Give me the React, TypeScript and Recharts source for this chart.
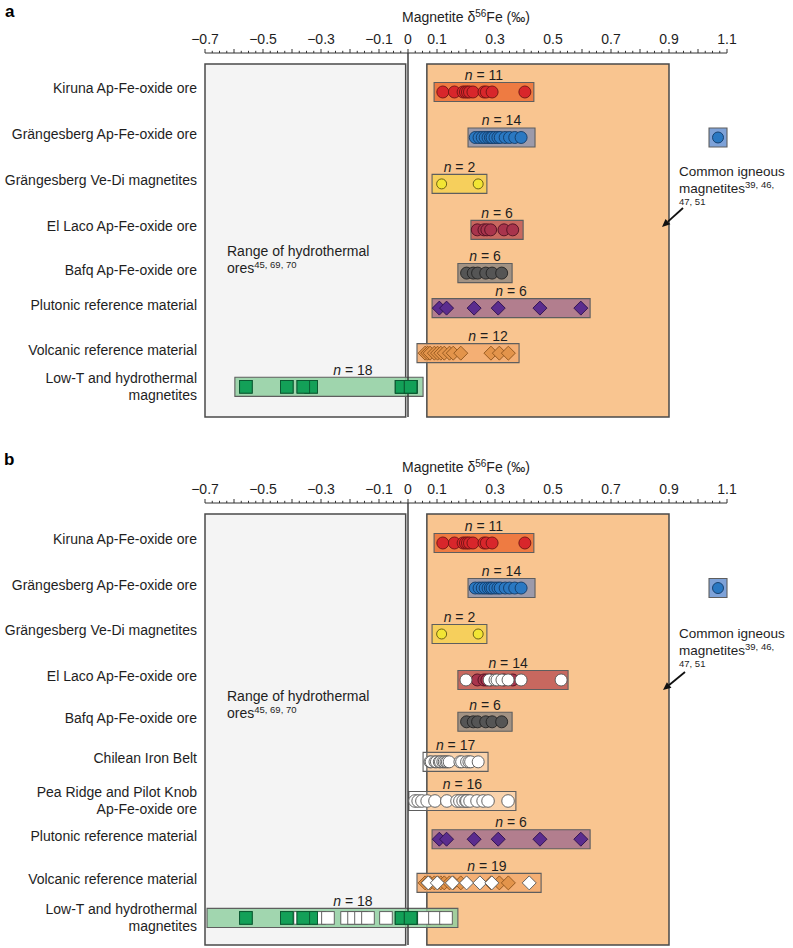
import React from 'react';
import { ScatterChart, Scatter, XAxis, YAxis, ReferenceArea, ReferenceLine } from 'recharts';

const FONT = '"Liberation Sans", Arial, Helvetica, sans-serif';
const TXT = '#1e1e1e';

// ---------- axis ----------
const xDomain: [number, number] = [-0.7, 1.1];
const xTickLabels = [-0.7, -0.5, -0.3, -0.1, 0, 0.1, 0.3, 0.5, 0.7, 0.9, 1.1];
const xMinorStep = 0.025;
const xAllTicks: number[] = [];
for (let i = 0; i <= Math.round((xDomain[1] - xDomain[0]) / xMinorStep); i++) {
  xAllTicks.push(Math.round((xDomain[0] + i * xMinorStep) * 1000) / 1000);
}

// ---------- panel a rows ----------
const rowLabelsA = [
  'Kiruna Ap-Fe-oxide ore',
  'Grängesberg Ap-Fe-oxide ore',
  'Grängesberg Ve-Di magnetites',
  'El Laco Ap-Fe-oxide ore',
  'Bafq Ap-Fe-oxide ore',
  'Plutonic reference material',
  'Volcanic reference material',
  'Low-T and hydrothermal\nmagnetites',
];
const rowPosA = [0, 1, 2.02, 3.03, 3.98, 4.75, 5.74, 6.48];

// ---------- panel b rows ----------
const rowLabelsB = [
  'Kiruna Ap-Fe-oxide ore',
  'Grängesberg Ap-Fe-oxide ore',
  'Grängesberg Ve-Di magnetites',
  'El Laco Ap-Fe-oxide ore',
  'Bafq Ap-Fe-oxide ore',
  'Chilean Iron Belt',
  'Pea Ridge and Pilot Knob\nAp-Fe-oxide ore',
  'Plutonic reference material',
  'Volcanic reference material',
  'Low-T and hydrothermal\nmagnetites',
];
const rowPosB = [0, 0.99, 2.0, 3.01, 3.93, 4.81, 5.67, 6.51, 7.47, 8.24];

// ---------- values (δ56Fe, ‰) ----------
const kiruna = [0.12, 0.16, 0.19, 0.198, 0.205, 0.212, 0.224, 0.262, 0.27, 0.29, 0.403];
const grangesberg = [0.232, 0.245, 0.256, 0.266, 0.276, 0.284, 0.29, 0.3, 0.31, 0.318, 0.335, 0.35, 0.368, 0.39];
const veDi = [0.116, 0.242];
const elLaco = [0.239, 0.262, 0.272, 0.285, 0.331, 0.361];
const elLacoNew = [0.2, 0.28, 0.3, 0.307, 0.324, 0.345, 0.39, 0.528];
const bafq = [0.202, 0.225, 0.24, 0.268, 0.29, 0.323];
const chilean = [0.076, 0.08, 0.093, 0.098, 0.108, 0.112, 0.12, 0.125, 0.131, 0.136, 0.142, 0.179, 0.185, 0.202, 0.21, 0.216, 0.242];
const peaRidge = [0.024, 0.035, 0.048, 0.066, 0.093, 0.134, 0.169, 0.179, 0.19, 0.2, 0.203, 0.214, 0.238, 0.259, 0.276, 0.345];
const plutonic = [0.108, 0.133, 0.228, 0.311, 0.455, 0.596];
const volcanic = [0.059, 0.068, 0.076, 0.091, 0.102, 0.113, 0.125, 0.143, 0.156, 0.182, 0.286, 0.315, 0.346];
const volcanicNew = [0.07, 0.101, 0.153, 0.202, 0.248, 0.289, 0.418];
const lowT = [-0.559, -0.418, -0.361, -0.334, -0.334, -0.022, -0.022, -0.022, 0.009, 0.009, 0.009, 0.009, -0.559, -0.418, -0.361, -0.022, 0.009, 0.009];
const lowTNew = [-0.372, -0.307, -0.276, -0.21, -0.186, -0.162, -0.138, -0.076, 0.055, 0.093, 0.131];
const igneous = [1.069];

// ---------- ranges ----------
const hydrothermalRange = [-0.7, -0.008];
const igneousRange = [0.065, 0.9];

// ---------- styles ----------
const C = {
  kiruna: { box: '#EE7B42', fill: '#D8262B', stroke: '#6e1414' },
  grang: { box: '#9C9AAA', fill: '#2A78C2', stroke: '#123a66' },
  vedi: { box: '#F6CF5C', fill: '#F2E534', stroke: '#5e5510' },
  laco: { box: '#C8685F', fill: '#A8344C', stroke: '#4e1020' },
  bafq: { box: '#A29283', fill: '#555555', stroke: '#222222' },
  plut: { box: '#B27E8E', fill: '#5B2C8E', stroke: '#2a0f4c' },
  volc: { box: '#F2AC70', fill: '#E3944B', stroke: '#8e531c' },
  lowt: { box: '#8FCFA0', fill: '#13A058', stroke: '#0b5630' },
  ign: { box: '#7EA2D8', fill: '#2A78C2', stroke: '#123a66' },
  white: { box: '#FFFFFF', fill: '#FFFFFF', stroke: '#555555' },
};

type Box = { row: number; lo: number; hi: number; fill: string; op?: number; n?: number; nAt?: number };
type Series = { row: number; values: number[]; kind: 'circle' | 'diamond' | 'square'; size: number; fill: string; stroke: string };

const boxesA: Box[] = [
  { row: 0, lo: 0.09, hi: 0.434, fill: C.kiruna.box, n: 11 },
  { row: 1, lo: 0.207, hi: 0.438, fill: C.grang.box, n: 14 },
  { row: 1, lo: 1.038, hi: 1.1, fill: C.ign.box },
  { row: 2, lo: 0.083, hi: 0.272, fill: C.vedi.box, n: 2 },
  { row: 3, lo: 0.217, hi: 0.397, fill: C.laco.box, n: 6 },
  { row: 4, lo: 0.172, hi: 0.359, fill: C.bafq.box, n: 6 },
  { row: 5, lo: 0.083, hi: 0.628, fill: C.plut.box, n: 6 },
  { row: 6, lo: 0.031, hi: 0.383, fill: C.volc.box, op: 0.88, n: 12, nAt: 0.276 },
  { row: 7, lo: -0.597, hi: 0.052, fill: C.lowt.box, op: 0.85, n: 18, nAt: -0.19 },
];

const seriesA: Series[] = [
  { row: 0, values: kiruna, kind: 'circle', size: 6, ...C.kiruna },
  { row: 1, values: grangesberg, kind: 'circle', size: 6, ...C.grang },
  { row: 1, values: igneous, kind: 'circle', size: 5.5, ...C.ign },
  { row: 2, values: veDi, kind: 'circle', size: 5, ...C.vedi },
  { row: 3, values: elLaco, kind: 'circle', size: 6, ...C.laco },
  { row: 4, values: bafq, kind: 'circle', size: 6, ...C.bafq },
  { row: 5, values: plutonic, kind: 'diamond', size: 7, ...C.plut },
  { row: 6, values: volcanic, kind: 'diamond', size: 7, ...C.volc },
  { row: 7, values: lowT, kind: 'square', size: 6.3, ...C.lowt },
];

const boxesB: Box[] = [
  { row: 0, lo: 0.09, hi: 0.434, fill: C.kiruna.box, n: 11 },
  { row: 1, lo: 0.207, hi: 0.438, fill: C.grang.box, n: 14 },
  { row: 1, lo: 1.038, hi: 1.1, fill: C.ign.box },
  { row: 2, lo: 0.083, hi: 0.272, fill: C.vedi.box, n: 2 },
  { row: 3, lo: 0.172, hi: 0.552, fill: C.laco.box, n: 14, nAt: 0.345 },
  { row: 4, lo: 0.172, hi: 0.359, fill: C.bafq.box, n: 6 },
  { row: 5, lo: 0.052, hi: 0.276, fill: '#FFFFFF', op: 0.25, n: 17 },
  { row: 6, lo: 0.003, hi: 0.372, fill: '#FFFFFF', op: 0.25, n: 16 },
  { row: 7, lo: 0.083, hi: 0.628, fill: C.plut.box, n: 6 },
  { row: 8, lo: 0.031, hi: 0.459, fill: C.volc.box, op: 0.88, n: 19, nAt: 0.272 },
  { row: 9, lo: -0.693, hi: 0.172, fill: C.lowt.box, op: 0.82, n: 18, nAt: -0.19 },
];

const seriesB: Series[] = [
  { row: 0, values: kiruna, kind: 'circle', size: 6, ...C.kiruna },
  { row: 1, values: grangesberg, kind: 'circle', size: 6, ...C.grang },
  { row: 1, values: igneous, kind: 'circle', size: 5.5, ...C.ign },
  { row: 2, values: veDi, kind: 'circle', size: 5, ...C.vedi },
  { row: 3, values: elLaco, kind: 'circle', size: 6, ...C.laco },
  { row: 3, values: elLacoNew, kind: 'circle', size: 6, ...C.white },
  { row: 4, values: bafq, kind: 'circle', size: 6, ...C.bafq },
  { row: 5, values: chilean, kind: 'circle', size: 6, ...C.white },
  { row: 6, values: peaRidge, kind: 'circle', size: 6.3, ...C.white },
  { row: 7, values: plutonic, kind: 'diamond', size: 7, ...C.plut },
  { row: 8, values: volcanic, kind: 'diamond', size: 7, ...C.volc },
  { row: 8, values: volcanicNew, kind: 'diamond', size: 7, ...C.white },
  { row: 9, values: lowTNew, kind: 'square', size: 6.3, ...C.white },
  { row: 9, values: lowT, kind: 'square', size: 6.3, ...C.lowt },
];

// ---------- helpers ----------
const fmtTick = (v: number) => (Math.abs(v) < 1e-9 ? '0' : v < 0 ? '\u2212' + Math.abs(v).toFixed(1) : v.toFixed(1));

const XTick = (props: any) => {
  const { x, y, payload } = props;
  const v = payload.value as number;
  const major = Math.abs(v * 10 - Math.round(v * 10)) < 1e-6;
  const lab = xTickLabels.find((t) => Math.abs(t - v) < 1e-6);
  return (
    <g>
      <line x1={x} x2={x} y1={y} y2={y - (major ? 4 : 2.2)} stroke="#333" strokeWidth={1} />
      {lab !== undefined && (
        <text x={x} y={y - 9.5} textAnchor="middle" fontSize={14} fill={TXT} fontFamily={FONT}>
          {fmtTick(lab)}
        </text>
      )}
    </g>
  );
};

const makeRowTick = (labels: string[], pos: number[]) => (props: any) => {
  const { x, y, payload } = props;
  const i = pos.findIndex((p) => Math.abs(p - payload.value) < 1e-9);
  const lines = (labels[i] ?? '').split('\n');
  const offs = lines.length === 1 ? [1.5] : [-4, 13];
  return (
    <text textAnchor="end" fontSize={14} fill={TXT} fontFamily={FONT}>
      {lines.map((l, k) => (
        <tspan key={k} x={x} y={y + offs[k]}>
          {l}
        </tspan>
      ))}
    </text>
  );
};

const Marker = (p: any, s: Series) => {
  const { cx, cy } = p;
  if (cx == null || cy == null) return <g />;
  const r = s.size;
  if (s.kind === 'circle') return <circle cx={cx} cy={cy} r={r} fill={s.fill} stroke={s.stroke} strokeWidth={0.9} />;
  if (s.kind === 'diamond')
    return (
      <polygon
        points={`${cx},${cy - r} ${cx + r},${cy} ${cx},${cy + r} ${cx - r},${cy}`}
        fill={s.fill}
        stroke={s.stroke}
        strokeWidth={0.9}
      />
    );
  return <rect x={cx - r} y={cy - r} width={2 * r} height={2 * r} fill={s.fill} stroke={s.stroke} strokeWidth={0.9} />;
};

const NLabel = (p: any) => {
  const { cx, cy } = p;
  const n = p.payload?.n ?? p.n;
  return (
    <text x={cx} y={cy - 12} textAnchor="middle" fontSize={14} fill={TXT} fontFamily={FONT}>
      <tspan fontStyle="italic">n</tspan> = {n}
    </text>
  );
};

type PanelProps = {
  labels: string[];
  pos: number[];
  boxes: Box[];
  series: Series[];
  height: number;
  marginBottom: number;
  yDomain: [number, number];
  bgTop: number;
  bgBottom: number;
};

const HALF = 0.209;

const Panel = ({ labels, pos, boxes, series, height, marginBottom, yDomain, bgTop, bgBottom }: PanelProps) => {
  const nData = boxes
    .filter((b) => b.n !== undefined)
    .map((b) => ({ x: b.nAt ?? (b.lo + b.hi) / 2, y: pos[b.row], n: b.n }));
  return (
    <ScatterChart width={793} height={height} margin={{ top: 23, right: 66, bottom: marginBottom, left: 0 }}>
      <XAxis
        dataKey="x"
        type="number"
        orientation="top"
        domain={xDomain}
        allowDataOverflow
        ticks={xAllTicks}
        interval={0}
        tick={<XTick />}
        tickLine={false}
        tickSize={0}
        tickMargin={0}
        height={30}
        axisLine={{ stroke: '#333', strokeWidth: 1 }}
      />
      <YAxis
        dataKey="y"
        type="number"
        domain={yDomain}
        allowDataOverflow
        reversed
        ticks={pos}
        interval={0}
        width={205}
        axisLine={false}
        tickLine={false}
        tickSize={0}
        tickMargin={8}
        tick={makeRowTick(labels, pos)}
      />
      <ReferenceArea
        x1={hydrothermalRange[0]}
        x2={hydrothermalRange[1]}
        y1={bgTop}
        y2={bgBottom}
        fill="#F4F4F4"
        fillOpacity={1}
        stroke="#4a4a4a"
        strokeWidth={1.5}
        ifOverflow="visible"
      />
      <ReferenceArea
        x1={igneousRange[0]}
        x2={igneousRange[1]}
        y1={bgTop}
        y2={bgBottom}
        fill="#F9C590"
        fillOpacity={1}
        stroke="#4a4a4a"
        strokeWidth={1.5}
        ifOverflow="visible"
      />
      <ReferenceLine
        segment={[
          { x: 0, y: yDomain[0] },
          { x: 0, y: bgBottom },
        ]}
        stroke="#333"
        strokeWidth={1.4}
        ifOverflow="visible"
      />
      {boxes.map((b, i) => (
        <ReferenceArea
          key={'b' + i}
          x1={b.lo}
          x2={b.hi}
          y1={pos[b.row] - HALF}
          y2={pos[b.row] + HALF}
          fill={b.fill}
          fillOpacity={b.op ?? 1}
          stroke="#5e5e5e"
          strokeWidth={1.1}
          ifOverflow="visible"
        />
      ))}
      {series.map((s, i) => (
        <Scatter
          key={'s' + i}
          data={s.values.map((v) => ({ x: v, y: pos[s.row] }))}
          isAnimationActive={false}
          shape={(p: any) => Marker(p, s)}
        />
      ))}
      <Scatter data={nData} isAnimationActive={false} shape={NLabel} />
    </ScatterChart>
  );
};

const Arrow = ({ x1, y1, x2, y2 }: { x1: number; y1: number; x2: number; y2: number }) => {
  const a = Math.atan2(y2 - y1, x2 - x1);
  const L = 8;
  const W = 3.6;
  const bx = x2 - L * Math.cos(a);
  const by = y2 - L * Math.sin(a);
  const px = -Math.sin(a) * W;
  const py = Math.cos(a) * W;
  return (
    <g>
      <line x1={x1} y1={y1} x2={bx} y2={by} stroke="#111" strokeWidth={1.8} />
      <polygon points={`${x2},${y2} ${bx + px},${by + py} ${bx - px},${by - py}`} fill="#111" />
    </g>
  );
};

const Title = ({ y }: { y: number }) => (
  <text x={466} y={y} textAnchor="middle" fontSize={14} fill={TXT} fontFamily={FONT}>
    Magnetite δ
    <tspan fontSize={10} dy={-5}>
      56
    </tspan>
    <tspan dy={5}>Fe (‰)</tspan>
  </text>
);

const RangeText = ({ y }: { y: number }) => (
  <g fontSize={14} fill={TXT} fontFamily={FONT}>
    <text x={227} y={y}>
      Range of hydrothermal
    </text>
    <text x={227} y={y + 17}>
      ores
      <tspan fontSize={9.5} dy={-5}>
        45, 69, 70
      </tspan>
    </text>
  </g>
);

const IgneousText = ({ y }: { y: number }) => (
  <g fill={TXT} fontFamily={FONT}>
    <text x={679} y={y} fontSize={13.5}>
      Common igneous
    </text>
    <text x={679} y={y + 17} fontSize={13.5}>
      magnetites
      <tspan fontSize={9.5} dy={-5}>
        39, 46,
      </tspan>
    </text>
    <text x={679} y={y + 29} fontSize={9.5}>
      47, 51
    </text>
  </g>
);

export default function App() {
  return (
    <div style={{ position: 'absolute', left: 0, top: 0, width: 793, height: 948, background: '#fff', overflow: 'hidden' }}>
      <div style={{ position: 'absolute', left: 0, top: 0 }}>
        <Panel
          labels={rowLabelsA}
          pos={rowPosA}
          boxes={boxesA}
          series={seriesA}
          height={445}
          marginBottom={25}
          yDomain={[-0.857, 7.209]}
          bgTop={-0.615}
          bgBottom={7.143}
        />
      </div>
      <div style={{ position: 'absolute', left: 0, top: 450 }}>
        <Panel
          labels={rowLabelsB}
          pos={rowPosB}
          boxes={boxesB}
          series={seriesB}
          height={498}
          marginBottom={0}
          yDomain={[-0.879, 8.901]}
          bgTop={-0.637}
          bgBottom={8.835}
        />
      </div>
      <svg
        width={793}
        height={948}
        style={{ position: 'absolute', left: 0, top: 0, pointerEvents: 'none' }}
      >
        <text x={5} y={17} fontSize={17} fontWeight="bold" fill="#000" fontFamily={FONT}>
          a
        </text>
        <text x={4} y={465} fontSize={17} fontWeight="bold" fill="#000" fontFamily={FONT}>
          b
        </text>
        <Title y={22} />
        <Title y={472} />
        <RangeText y={256} />
        <RangeText y={701} />
        <IgneousText y={176} />
        <IgneousText y={638} />
        <Arrow x1={683} y1={208} x2={662} y2={227} />
        <Arrow x1={685} y1={672} x2={663} y2={690} />
      </svg>
    </div>
  );
}
